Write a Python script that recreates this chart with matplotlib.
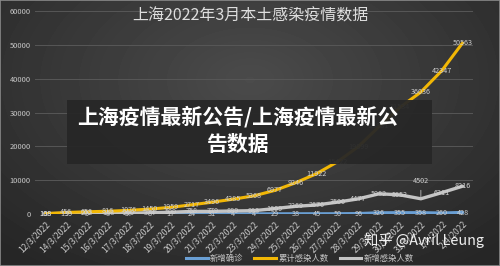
import numpy as np
import matplotlib
matplotlib.use("Agg")
import matplotlib.pyplot as plt
from matplotlib.patches import Rectangle
from matplotlib.lines import Line2D

plt.rcParams['font.family'] = ['Noto Sans CJK SC', 'DejaVu Sans']

# ---- data ----
dates = ["12/3/2022", "14/3/2022", "15/3/2022", "16/3/2022", "17/3/2022",
         "18/3/2022", "19/3/2022", "20/3/2022", "21/3/2022", "22/3/2022",
         "23/3/2022", "24/3/2022", "25/3/2022", "26/3/2022", "27/3/2022",
         "28/3/2022", "29/3/2022", "30/3/2022", "31/3/2022", "1/4/2022",
         "2/4/2022"]
new_confirmed = [1, 9, 5, 8, 57, 8, 17, 24, 31, 4, 4, 29, 38, 45, 50, 96,
                 326, 355, 358, 260, 428]
cumulative = [108, 456, 658, 816, 1076, 1450, 1959, 2717, 3496, 4385, 5368,
              6977, 9246, 11922, 15422, 19899, 25881, 31534, 36036, 42347,
              50563]
new_infected = [108, 139, 202, 158, 260, 374, 509, 758, 779, 889, 983, 1609,
                2269, 2676, 3500, 4477, 5982, 5653, 4502, 6311, 8216]
y_ticks = [0, 10000, 20000, 30000, 40000, 50000, 60000]

title = "上海2022年3月本土感染疫情数据"
series_names = ["新增确诊", "累计感染人数", "新增感染人数"]
banner_lines = ["上海疫情最新公告/上海疫情最新公", "告数据"]
watermark = "知乎 @Avril Leung"

c_blue = "#6a9fd4"
c_gold = "#f2b705"
c_grey = "#c4c4c4"
c_text = "#c8c8c8"

fig = plt.figure(figsize=(5.0, 2.66), dpi=100)

# dark radial background
bg = fig.add_axes([0, 0, 1, 1], zorder=-10)
yy, xx = np.mgrid[0:1:266j, 0:1:500j]
r = np.sqrt(((xx - 0.5) / 0.8) ** 2 + ((yy - 0.3) / 0.95) ** 2)
shade = np.clip(0.295 - 0.16 * r, 0.15, 0.3)
bg.imshow(shade, cmap="gray", vmin=0, vmax=1, aspect="auto",
          extent=[0, 1, 0, 1], origin="upper")
bg.set_axis_off()
fig.add_artist(Rectangle((0, 0), 1, 1, transform=fig.transFigure,
                         fill=False, edgecolor="#8a8a8a", lw=1.2, zorder=20))

ax = fig.add_axes([0.07, 0.1955, 0.876, 0.763])
ax.set_facecolor("none")
x = np.arange(len(dates))

ax.set_xlim(-0.5, len(dates) - 0.5)
ax.set_ylim(0, 60000)
ax.set_yticks(y_ticks)
ax.set_yticklabels([str(v) for v in y_ticks], fontsize=5.4, color=c_text)
ax.set_xticks(x)
ax.set_xticklabels(dates, rotation=45, ha="right", va="top",
                   rotation_mode="anchor", fontsize=6.2, color=c_text)
ax.tick_params(length=0, pad=3)
ax.tick_params(axis="x", pad=4)
for s in ax.spines.values():
    s.set_visible(False)
ax.grid(axis="y", color="#575757", lw=0.7)
ax.set_axisbelow(True)

ax.plot(x, new_confirmed, color=c_blue, lw=2.4, solid_capstyle="round", zorder=3)
ax.plot(x, new_infected, color=c_grey, lw=2.4, solid_capstyle="round", zorder=4)
ax.plot(x, cumulative, color=c_gold, lw=2.2, solid_capstyle="round", zorder=5)

lab_kw = dict(ha="center", va="center", fontsize=5.2, color="#d0d0d0", zorder=7)
for xi, v in zip(x, new_confirmed):
    ax.text(xi, v, str(v), **lab_kw)
for xi, v in zip(x, cumulative):
    ax.text(xi, v, str(v), **lab_kw)
for xi, v in zip(x, new_infected):
    if v == 4502:
        ax.annotate(str(v), xy=(xi, v), xytext=(0, 13), textcoords="offset points",
                    arrowprops=dict(arrowstyle="-", color="#bdbdbd", lw=0.6,
                                    shrinkA=2, shrinkB=0),
                    **lab_kw)
    else:
        ax.text(xi, v, str(v), **lab_kw)

fig.text(0.5, 0.94, title, ha="center", va="center", fontsize=11.5,
         color="#dedede")

handles = [Line2D([], [], color=c, lw=2.2) for c in (c_blue, c_gold, c_grey)]
fig.legend(handles, series_names, loc="center", bbox_to_anchor=(0.6, 0.027),
           ncol=3, frameon=False, fontsize=6.0, labelcolor=c_text,
           handlelength=2.6, handletextpad=0.3, columnspacing=1.3)

# banner box with headline
fig.add_artist(Rectangle((0.134, 0.383), 0.73, 0.24, transform=fig.transFigure,
                         facecolor="#272727", edgecolor="none", alpha=0.95,
                         zorder=10))
fig.text(0.476, (266 - 117) / 266, banner_lines[0], ha="center", va="center",
         fontsize=15, fontweight="bold", color="white", zorder=11)
fig.text(0.476, (266 - 144) / 266, banner_lines[1], ha="center", va="center",
         fontsize=15, fontweight="bold", color="white", zorder=11)

fig.text(0.848, (266 - 241) / 266, watermark, ha="center", va="center",
         fontsize=10.3, color="white", alpha=0.92, zorder=12)

fig.savefig("out.png", dpi=100)
